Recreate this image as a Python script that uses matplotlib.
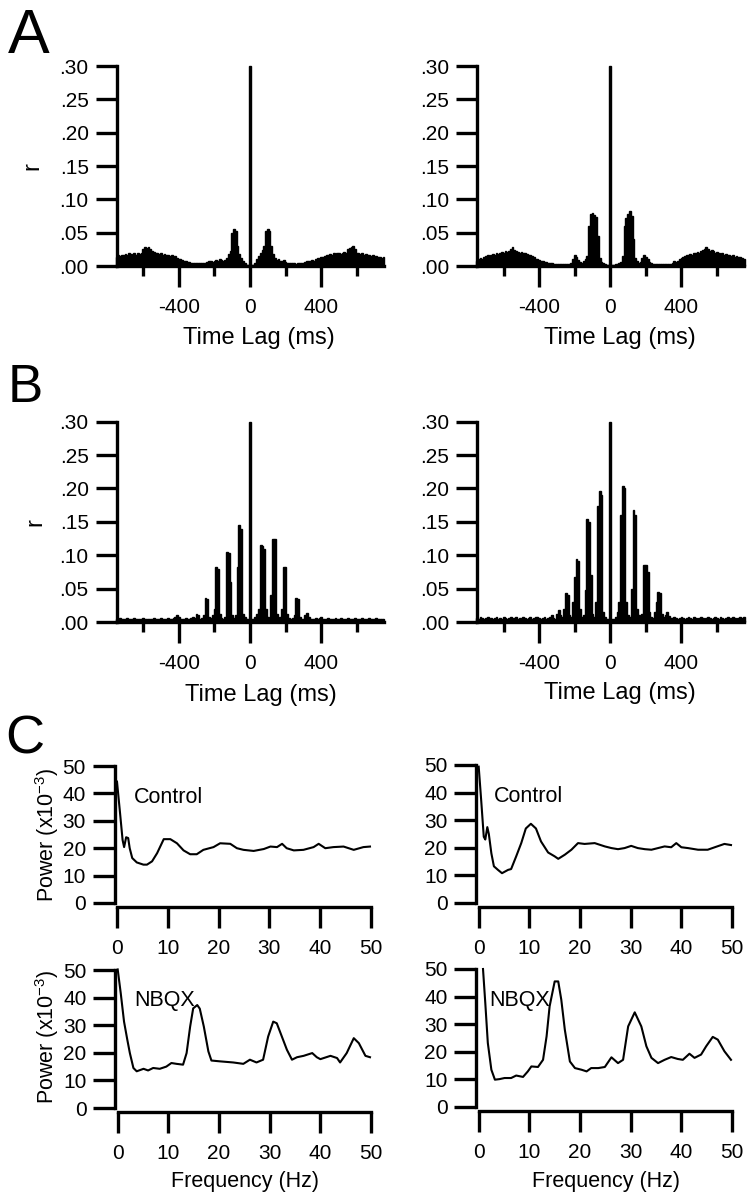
import numpy as np
import matplotlib
matplotlib.use('Agg')
import matplotlib.pyplot as plt

plt.rcParams['font.family'] = ['Liberation Sans', 'DejaVu Sans']
plt.rcParams['mathtext.fontset'] = 'custom'
plt.rcParams['mathtext.rm'] = 'Liberation Sans'
plt.rcParams['mathtext.it'] = 'Liberation Sans:italic'

# ---------------- data ----------------
lags = np.arange(-750, 751, 10)          # ms, bin centres
r_ticks = [0.00, 0.05, 0.10, 0.15, 0.20, 0.25, 0.30]
r_tick_labels = ['.00', '.05', '.10', '.15', '.20', '.25', '.30']
lag_major = [-400, 0, 400]
lag_minor = [-600, -200, 200, 600]

rA_left = [
    .014, .016, .015, .017, .016, .018, .017, .020, .018, .016,
    .019, .017, .020, .018, .020, .026, .028, .027, .028, .025,
    .022, .021, .020, .019, .018, .019, .017, .018, .016, .017,
    .015, .016, .014, .015, .012, .010, .011, .009, .008, .007,
    .006, .006, .005, .005, .004, .004, .005, .005, .004, .004,
    .005, .006, .008, .007, .006, .008, .009, .008, .010, .009,
    .007, .009, .012, .018, .022, .050, .055, .052, .030, .018,
    .012, .008, .005, .002, .001, .300, .001, .002, .005, .010,
    .015, .020, .024, .030, .052, .055, .053, .030, .018, .012,
    .009, .010, .008, .007, .009, .006, .005, .005, .004, .004,
    .004, .003, .004, .005, .004, .005, .006, .007, .008, .007,
    .009, .008, .010, .012, .011, .013, .014, .015, .017, .016,
    .018, .017, .019, .018, .020, .019, .018, .020, .021, .020,
    .025, .027, .028, .030, .026, .020, .019, .018, .020, .017,
    .018, .016, .017, .015, .016, .014, .015, .013, .014, .012,
    .013]

rA_right = [
    .008, .010, .012, .011, .014, .015, .016, .014, .017, .018,
    .016, .019, .018, .020, .021, .019, .022, .021, .023, .025,
    .028, .024, .022, .021, .020, .021, .019, .020, .018, .017,
    .016, .015, .013, .011, .010, .009, .008, .007, .006, .006,
    .005, .004, .004, .003, .003, .003, .003, .003, .003, .003,
    .003, .003, .003, .004, .010, .016, .014, .009, .006, .005,
    .007, .010, .015, .060, .078, .079, .077, .074, .045, .012,
    .006, .004, .003, .002, .001, .300, .001, .002, .003, .003,
    .004, .006, .015, .060, .072, .078, .082, .075, .040, .012,
    .008, .005, .006, .012, .016, .014, .010, .006, .004, .003,
    .003, .003, .003, .003, .003, .003, .003, .003, .003, .003,
    .004, .007, .006, .008, .011, .012, .013, .015, .016, .017,
    .018, .017, .019, .020, .021, .020, .022, .024, .026, .028,
    .025, .022, .024, .022, .020, .021, .019, .018, .020, .017,
    .018, .016, .017, .015, .016, .014, .015, .013, .014, .012,
    .010]

rB_left = [
    .005, .004, .006, .005, .004, .005, .006, .005, .004, .005,
    .006, .005, .004, .005, .005, .006, .004, .005, .005, .004,
    .005, .006, .005, .004, .005, .006, .005, .004, .005, .006,
    .005, .004, .006, .008, .010, .007, .005, .004, .005, .006,
    .005, .004, .006, .008, .006, .012, .010, .005, .006, .010,
    .036, .034, .008, .006, .010, .020, .083, .080, .012, .006,
    .005, .008, .105, .104, .060, .010, .006, .010, .083, .146,
    .140, .012, .008, .005, .004, .300, .004, .005, .008, .012,
    .020, .115, .114, .110, .020, .008, .006, .040, .124, .125,
    .012, .006, .008, .020, .083, .082, .012, .006, .005, .006,
    .010, .036, .034, .008, .005, .004, .010, .014, .008, .005,
    .004, .005, .006, .005, .006, .007, .005, .004, .005, .006,
    .005, .004, .005, .006, .005, .004, .006, .005, .004, .005,
    .006, .005, .004, .005, .006, .005, .004, .005, .006, .005,
    .004, .005, .006, .005, .004, .005, .006, .005, .004, .005,
    .005]

rB_right = [
    .006, .005, .007, .006, .005, .006, .007, .005, .006, .005,
    .006, .007, .005, .006, .005, .007, .006, .005, .006, .007,
    .005, .006, .007, .005, .006, .005, .007, .006, .005, .006,
    .007, .005, .006, .008, .007, .006, .005, .006, .007, .005,
    .006, .008, .010, .006, .005, .012, .018, .010, .008, .020,
    .043, .040, .010, .008, .030, .068, .094, .092, .020, .008,
    .010, .048, .155, .150, .070, .012, .008, .030, .174, .196,
    .190, .015, .008, .005, .004, .300, .004, .005, .008, .015,
    .030, .160, .204, .200, .030, .010, .008, .050, .167, .160,
    .020, .010, .008, .012, .085, .085, .075, .015, .008, .006,
    .015, .030, .045, .044, .012, .008, .010, .015, .009, .006,
    .006, .007, .006, .005, .006, .007, .006, .005, .006, .007,
    .006, .005, .007, .006, .005, .006, .007, .006, .005, .006,
    .007, .006, .005, .006, .008, .006, .005, .007, .006, .005,
    .006, .007, .005, .006, .007, .006, .005, .006, .007, .006,
    .007]

freq_ticks = [0, 10, 20, 30, 40, 50]
pow_ticks = [0, 10, 20, 30, 40, 50]

f_ctl_left = [0, 0.6, 1.1, 1.4, 1.8, 2.2, 2.5, 3, 3.9, 5.2, 5.9, 6.9, 7.9, 9.2, 10.5,
              11.8, 13.1, 14.4, 15.7, 17, 19, 20.3, 22.3, 23.6, 24.9, 26.9, 28.9,
              30.2, 31.5, 32.5, 33.4, 34.8, 36.7, 38.7, 39.7, 41, 42.6, 44.6, 46.6,
              48.5, 49.8]
p_ctl_left = [44.3, 32.8, 23, 20.4, 24, 23.7, 20, 16.4, 14.8, 14, 14, 15.2, 18.2, 23.3,
              23.3, 21.8, 19.2, 17.8, 17.8, 19.4, 20.4, 21.8, 21.6, 20, 19.4, 19, 19.7,
              20.6, 20.4, 21.6, 20, 19.2, 19.4, 20.4, 21.6, 20, 20.4, 20.6, 19.4, 20.4,
              20.6]

f_ctl_right = [0, 0.5, 1, 1.3, 1.7, 2, 2.5, 3, 3.8, 4.6, 5.8, 6.4, 7.4, 8.4, 9.3, 10.3,
               11.3, 12.3, 13.7, 15, 15.7, 17, 18.3, 19.6, 20.9, 22.9, 24.9, 26.2, 27.5,
               28.8, 30.1, 31.4, 32.8, 34.1, 35.4, 36.7, 38, 39, 40, 41.3, 43.3, 45.2,
               46.6, 48.5, 49.8]
p_ctl_right = [49.4, 37, 24, 23, 27.5, 25, 18, 13.3, 12, 10.8, 12, 12.3, 16.9, 21.7, 27,
               28.7, 27, 22.3, 18.3, 16.9, 16, 17.5, 19.3, 21.7, 21.4, 21.7, 20.5, 19.9,
               19.5, 19.9, 20.7, 19.9, 19.5, 19.3, 19.9, 20.5, 20.2, 21.7, 20.2, 19.9,
               19.3, 19.3, 20.2, 21.4, 21]

f_nbqx_left = [0, 0.6, 1.25, 1.9, 2.4, 3.1, 3.75, 5.1, 6, 7, 8.3, 9.6, 10.6, 11.6, 12.9,
               13.6, 14.3, 14.9, 15.7, 16.2, 17, 17.9, 18.5, 20.2, 22.8, 24.8, 26.1,
               27.4, 28.7, 29.7, 30.7, 31.4, 32.4, 33.4, 34.4, 35.4, 36.7, 38.4, 39.3,
               40, 42, 43.3, 43.9, 45.2, 46.6, 47.6, 48.9, 49.8]
p_nbqx_left = [50.2, 41.6, 31.3, 24.7, 19.9, 14.5, 13.3, 14.2, 13.6, 14.5, 14.2, 15, 16.3,
               16, 15.7, 19.9, 29.5, 36.1, 37.3, 36, 29.5, 20.5, 17.2, 16.9, 16.5, 16,
               17.5, 16.5, 17.5, 25.9, 31.3, 30.7, 25.9, 21.1, 17.5, 18.4, 18.9, 19.9,
               18.4, 17.7, 18.9, 18.1, 16.5, 19.9, 25.3, 23.5, 18.9, 18.4]

f_nbqx_right = [0.85, 1.3, 1.8, 2.5, 3.2, 4.1, 5.1, 6.4, 7.4, 8.75, 9.7, 10.4, 11.7, 12.7,
                13.4, 14, 15, 15.7, 16.3, 17, 18, 19, 20.3, 21.3, 22.2, 23.6, 24.9, 26.2,
                27.5, 28.5, 29.5, 30.8, 32.1, 33.1, 34.1, 35.4, 36.7, 38, 39.3, 40.3,
                41.6, 42.6, 43.9, 44.9, 46.2, 47.2, 48.5, 49.8]
p_nbqx_right = [50, 37.7, 23.2, 13.5, 9.9, 10.1, 10.5, 10.5, 11.4, 10.9, 12.9, 14.7, 14.5,
                17.1, 25.6, 36.5, 45.5, 45.5, 38.9, 28, 16.5, 14.1, 13.5, 12.9, 14.1, 14.1,
                14.5, 18, 15.9, 17.1, 29.2, 34.3, 29.2, 22, 17.8, 15.9, 17.1, 18.1, 17.4,
                17.1, 19.3, 17.8, 19, 22, 25.4, 24.4, 20.2, 17.1]

# ---------------- layout ----------------
W, H = 756, 1200
fig = plt.figure(figsize=(W / 100, H / 100), dpi=100)

TICK_FS = 15
SPW = 2.4


def fx(x):
    return x / W


def fy(y):
    return 1 - y / H


def px_axes(left, top, right, bottom):
    return fig.add_axes([left / W, 1 - bottom / H, (right - left) / W, (bottom - top) / H])


def corr_panel(left, right, top, bottom, r):
    ax = px_axes(left, top, right, bottom)
    ax.bar(lags, r, width=10, color='black', edgecolor='black', linewidth=1.0,
           clip_on=False)
    ax.set_xlim(-750, 750)
    ax.set_ylim(0, 0.30)
    for s in ['top', 'right']:
        ax.spines[s].set_visible(False)
    for s in ['left', 'bottom']:
        ax.spines[s].set_linewidth(SPW)
    ax.set_yticks(r_ticks)
    ax.set_yticklabels(r_tick_labels)
    ax.set_xticks(lag_major)
    ax.set_xticklabels([str(v) for v in lag_major])
    ax.set_xticks(lag_minor, minor=True)
    ax.tick_params(axis='y', length=15, width=SPW, pad=5, labelsize=TICK_FS)
    ax.tick_params(axis='x', which='major', length=15, width=SPW, pad=8,
                   labelsize=TICK_FS)
    ax.tick_params(axis='x', which='minor', length=7.5, width=SPW)
    return ax


def psd_panel(left, right, top, bottom, f, p):
    ax = px_axes(left, top, right, bottom)
    ax.plot(f, p, color='black', lw=1.5, clip_on=False)
    ax.set_xlim(0, 50)
    ax.set_ylim(0, 50)
    for s in ['top', 'right']:
        ax.spines[s].set_visible(False)
    for s in ['left', 'bottom']:
        ax.spines[s].set_linewidth(SPW)
    ax.spines['left'].set_position(('outward', 1.8))
    ax.spines['bottom'].set_position(('outward', 2.9))
    ax.set_xticks(freq_ticks)
    ax.set_yticks(pow_ticks)
    ax.tick_params(axis='y', length=15.5, width=SPW, pad=5, labelsize=TICK_FS)
    ax.tick_params(axis='x', length=15, width=SPW, pad=8, labelsize=TICK_FS)
    return ax


# Panel A
corr_panel(116.5, 383.5, 66, 266, rA_left)
corr_panel(477, 743.7, 66, 266, rA_right)
# Panel B
corr_panel(116.5, 383.5, 421.7, 622, rB_left)
corr_panel(477, 743.7, 421.7, 622, rB_right)
# Panel C
psd_panel(117, 371, 766, 903, f_ctl_left, p_ctl_left)
psd_panel(478.7, 732, 765, 903, f_ctl_right, p_ctl_right)
psd_panel(117.7, 371, 970, 1108, f_nbqx_left, p_nbqx_left)
psd_panel(478.7, 732, 969, 1107, f_nbqx_right, p_nbqx_right)

# text labels
LAB_FS = 17
for (x, y) in [(259, 338), (620, 338), (261, 695), (620, 693)]:
    fig.text(fx(x), fy(y), 'Time Lag (ms)', ha='center', va='center', fontsize=LAB_FS)
for (x, y) in [(32, 166), (35, 522)]:
    fig.text(fx(x), fy(y), 'r', ha='center', va='center', rotation=90, fontsize=LAB_FS)
for (x, y) in [(47, 835), (47, 1037)]:
    fig.text(fx(x), fy(y), 'Power (x10$^{\\mathregular{-3}}$)', ha='center', va='center',
             rotation=90, fontsize=15.5)
for (x, y) in [(245, 1182), (606, 1182)]:
    fig.text(fx(x), fy(y), 'Frequency (Hz)', ha='center', va='center', fontsize=15.5)

for (x, y, t) in [(134, 803, 'Control'), (494, 802.5, 'Control'),
                  (134, 1006, 'NBQX'), (489, 1006, 'NBQX')]:
    fig.text(fx(x), fy(y), t, ha='left', va='baseline', fontsize=15.5)

fig.text(fx(8), fy(53), 'A', ha='left', va='baseline', fontsize=45)
fig.text(fx(8), fy(402), 'B', ha='left', va='baseline', fontsize=38)
fig.text(fx(5), fy(754), 'C', ha='left', va='baseline', fontsize=39)

fig.savefig('out.png', dpi=100, facecolor='white')
